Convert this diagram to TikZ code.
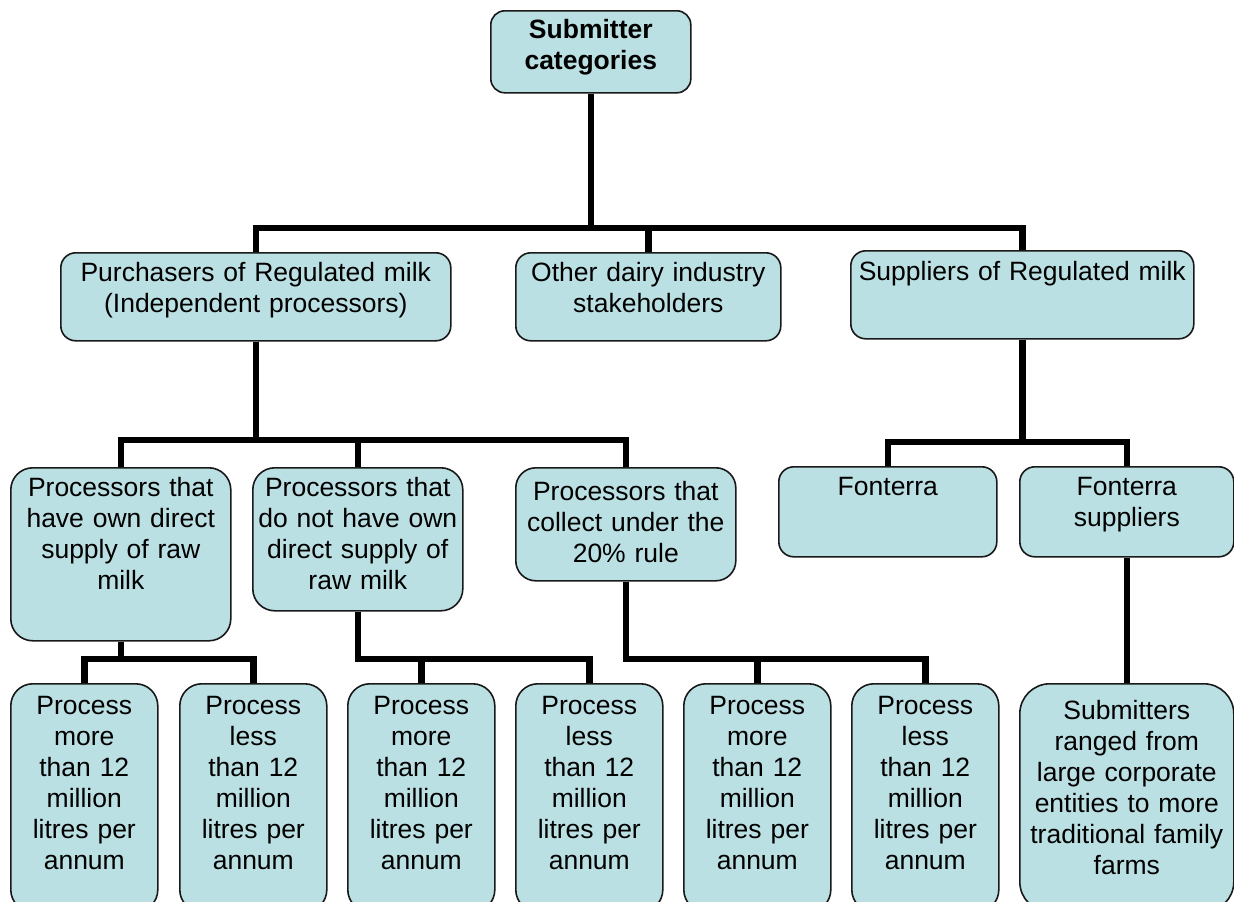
\documentclass[tikz,border=0pt]{standalone}
\usepackage{fontspec}
\setmainfont{Liberation Sans}
\usepackage{tikz}
\usepackage{xcolor}
\definecolor{boxfill}{RGB}{187,224,227}
\definecolor{boxline}{RGB}{25,25,25}
\tikzset{
  catbox/.style={draw=boxline,line width=1.6pt,fill=boxfill,anchor=north west,
    inner sep=0pt,align=center,font=\fontsize{26.5pt}{31pt}\selectfont},
  link/.style={line width=6.5pt,black}
}

\begin{document}
\begin{tikzpicture}[x=1pt,y=-1pt]
\useasboundingbox (0,0) rectangle (1234,902);
\clip (0,0) rectangle (1234,902);
% top
\node[catbox,rounded corners=14pt,text width=200pt,text height=28pt,text depth=54pt] (top) at (490,10) {\bfseries Submitter\\\bfseries categories};
% second level
\node[catbox,rounded corners=15pt,text width=390pt,text height=29pt,text depth=59pt] (pur) at (60,252) {Purchasers of Regulated milk\\(Independent processors)};
\node[catbox,rounded corners=15pt,text width=265pt,text height=29pt,text depth=59pt] (oth) at (515,252) {Other dairy industry\\stakeholders};
\node[catbox,rounded corners=15pt,text width=343pt,text height=30pt,text depth=58pt] (sup) at (850,250) {Suppliers of Regulated milk};
% third level
\node[catbox,rounded corners=22pt,text width=220pt,text height=29pt,text depth=144pt] (p1) at (10,467) {Processors that\\have own direct\\supply of raw\\milk};
\node[catbox,rounded corners=22pt,text width=210pt,text height=29pt,text depth=114pt] (p2) at (252,467) {Processors that\\do not have own\\direct supply of\\raw milk};
\node[catbox,rounded corners=20pt,text width=220pt,text height=33pt,text depth=80pt] (p3) at (515,467) {Processors that\\collect under the\\20\% rule};
\node[catbox,rounded corners=15pt,text width=218pt,text height=29pt,text depth=61pt] (fon) at (778,466) {Fonterra};
\node[catbox,rounded corners=15pt,text width=214pt,text height=29pt,text depth=61pt] (fsup) at (1019,466) {Fonterra\\suppliers};
% bottom level
\node[catbox,rounded corners=22pt,text width=147pt,text height=31pt,text depth=197pt] (b1) at (10,683) {Process\\more\\than 12\\million\\litres per\\annum};
\node[catbox,rounded corners=22pt,text width=147pt,text height=31pt,text depth=197pt] (b2) at (179,683) {Process\\less\\than 12\\million\\litres per\\annum};
\node[catbox,rounded corners=22pt,text width=147pt,text height=31pt,text depth=197pt] (b3) at (347,683) {Process\\more\\than 12\\million\\litres per\\annum};
\node[catbox,rounded corners=22pt,text width=147pt,text height=31pt,text depth=197pt] (b4) at (515,683) {Process\\less\\than 12\\million\\litres per\\annum};
\node[catbox,rounded corners=22pt,text width=147pt,text height=31pt,text depth=197pt] (b5) at (683,683) {Process\\more\\than 12\\million\\litres per\\annum};
\node[catbox,rounded corners=22pt,text width=147pt,text height=31pt,text depth=197pt] (b6) at (851,683) {Process\\less\\than 12\\million\\litres per\\annum};
\node[catbox,rounded corners=30pt,text width=214pt,text height=36pt,text depth=192pt] (subm) at (1019,683) {Submitters\\ranged from\\large corporate\\entities to more\\traditional family\\farms};
% links
\draw[link] (top.south) -- (top.south |- 0,228) -| (pur.north);
\draw[link] (top.south) -- (top.south |- 0,228) -| (oth.north);
\draw[link] (top.south) -- (top.south |- 0,228) -| (sup.north);
\draw[link] (pur.south) -- (pur.south |- 0,440) -| (p1.north);
\draw[link] (pur.south) -- (pur.south |- 0,440) -| (p2.north);
\draw[link] (pur.south) -- (pur.south |- 0,440) -| (p3.north);
\draw[link] (sup.south) -- (sup.south |- 0,442) -| (fon.north);
\draw[link] (sup.south) -- (sup.south |- 0,442) -| (fsup.north);
\draw[link] (p1.south) -- (p1.south |- 0,659) -| (b1.north);
\draw[link] (p1.south) -- (p1.south |- 0,659) -| (b2.north);
\draw[link] (p2.south) -- (p2.south |- 0,659) -| (b3.north);
\draw[link] (p2.south) -- (p2.south |- 0,659) -| (b4.north);
\draw[link] (p3.south) -- (p3.south |- 0,659) -| (b5.north);
\draw[link] (p3.south) -- (p3.south |- 0,659) -| (b6.north);
\draw[link] (fsup.south) -- (subm.north);
\end{tikzpicture}
\end{document}
